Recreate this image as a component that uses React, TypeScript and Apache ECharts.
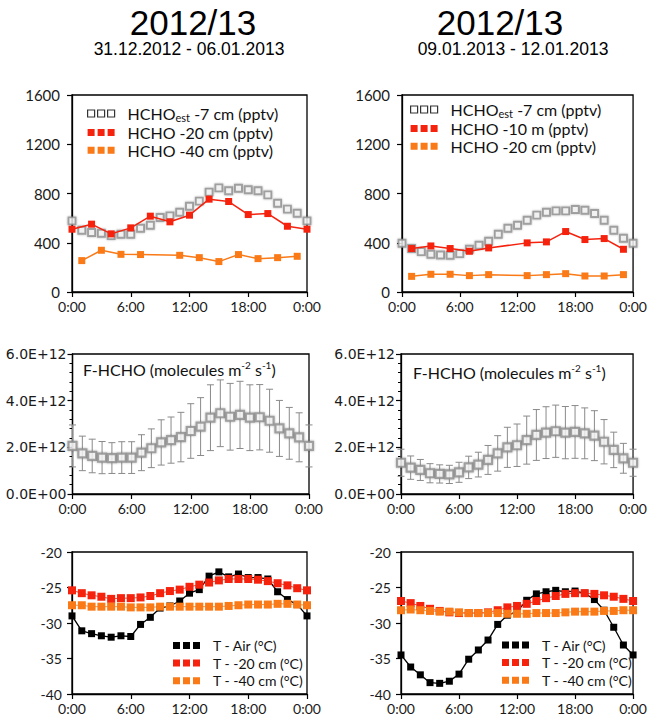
import React, { useEffect, useRef } from 'react';
import * as echarts from 'echarts';

// Hour-of-day positions (0:00 ... next 0:00)
const HOURS = [0, 1, 2, 3, 4, 5, 6, 7, 8, 9, 10, 11, 12, 13, 14, 15, 16, 17, 18, 19, 20, 21, 22, 23, 24];
const X_TICKS = ['0:00', '6:00', '12:00', '18:00', '0:00'];

// ---- Period 1: 31.12.2012 - 06.01.2013 ----
const hchoEstA = [578, 502, 483, 477, 458, 469, 469, 518, 542, 605, 618, 648, 697, 738, 811, 846, 822, 843, 830, 822, 789, 721, 673, 640, 578];
const hcho20A_hours = [0, 2, 4, 6, 8, 10, 12, 14, 16, 18, 20, 22, 24];
const hcho20A = [510, 551, 472, 521, 616, 570, 624, 754, 735, 629, 637, 534, 510];
const hcho40A_hours = [1, 3, 5, 7, 11, 13, 15, 17, 19, 21, 23];
const hcho40A = [255, 339, 306, 304, 298, 279, 247, 304, 271, 279, 290];

// F-HCHO mean and spread, in 1e12 molecules m-2 s-1
const fluxA = [2.06, 1.74, 1.63, 1.56, 1.54, 1.56, 1.56, 1.77, 1.96, 2.21, 2.31, 2.44, 2.70, 2.89, 3.27, 3.46, 3.31, 3.39, 3.27, 3.29, 3.14, 2.81, 2.60, 2.43, 2.06];
const fluxErrA = [0.90, 0.74, 0.72, 0.69, 0.66, 0.68, 0.68, 0.77, 0.83, 0.97, 0.99, 1.06, 1.17, 1.24, 1.41, 1.43, 1.43, 1.44, 1.41, 1.40, 1.35, 1.20, 1.11, 1.05, 0.90];

const tAirA = [-29.0, -31.1, -31.5, -31.8, -32.0, -31.8, -31.9, -30.2, -29.2, -27.9, -27.6, -26.9, -25.8, -25.3, -23.4, -22.8, -23.5, -23.1, -23.6, -23.6, -23.8, -25.6, -26.7, -27.4, -29.0];
const t20A = [-25.4, -25.8, -26.1, -26.3, -26.6, -26.5, -26.5, -26.4, -26.2, -25.8, -25.5, -25.3, -24.9, -24.6, -24.3, -24.0, -23.8, -23.8, -23.8, -23.9, -24.1, -24.4, -24.7, -25.1, -25.4];
const t40A = [-27.5, -27.5, -27.7, -27.7, -27.7, -27.7, -27.8, -27.8, -27.8, -27.7, -27.7, -27.7, -27.7, -27.7, -27.7, -27.7, -27.6, -27.5, -27.4, -27.4, -27.4, -27.3, -27.3, -27.4, -27.5];

// ---- Period 2: 09.01.2013 - 12.01.2013 ----
const hchoEstB = [396, 353, 328, 306, 301, 298, 312, 347, 380, 412, 469, 518, 542, 583, 624, 648, 659, 659, 670, 664, 637, 583, 502, 437, 396];
const hchoB_hours = [1, 3, 5, 7, 9, 13, 15, 17, 19, 21, 23];
const hcho10mB = [353, 374, 353, 331, 358, 399, 407, 491, 426, 434, 347];
const hcho20B = [127, 144, 144, 133, 141, 133, 141, 149, 130, 130, 141];

const fluxB = [1.34, 1.13, 1.03, 0.89, 0.86, 0.84, 0.93, 1.14, 1.26, 1.46, 1.74, 2.00, 2.09, 2.31, 2.53, 2.63, 2.69, 2.63, 2.66, 2.60, 2.50, 2.24, 1.89, 1.53, 1.34];
const fluxErrB = [0.58, 0.50, 0.45, 0.41, 0.39, 0.39, 0.43, 0.48, 0.53, 0.62, 0.76, 0.86, 0.91, 1.03, 1.09, 1.11, 1.12, 1.12, 1.13, 1.09, 1.07, 0.95, 0.76, 0.64, 0.58];

const tAirB = [-34.5, -36.2, -37.3, -38.4, -38.5, -38.2, -37.2, -35.1, -33.8, -32.4, -30.2, -28.9, -28.4, -26.8, -25.9, -25.6, -25.4, -25.6, -25.5, -25.8, -26.7, -28.2, -30.6, -33.1, -34.5];
const t20B = [-26.9, -27.2, -27.6, -28.0, -28.3, -28.5, -28.6, -28.6, -28.6, -28.5, -28.2, -27.8, -27.6, -27.3, -26.9, -26.5, -26.2, -25.9, -25.8, -25.8, -25.9, -26.1, -26.3, -26.6, -26.9];
const t40B = [-28.2, -28.1, -28.2, -28.3, -28.4, -28.4, -28.5, -28.6, -28.6, -28.6, -28.6, -28.7, -28.7, -28.7, -28.6, -28.6, -28.6, -28.5, -28.4, -28.4, -28.4, -28.3, -28.3, -28.2, -28.2];

const TITLE = '2012/13';
const PERIOD_A = '31.12.2012 - 06.01.2013';
const PERIOD_B = '09.01.2013 - 12.01.2013';

const NAME_EST = 'HCHOest -7 cm (pptv)';
const NAME_20 = 'HCHO -20 cm (pptv)';
const NAME_40 = 'HCHO -40 cm (pptv)';
const NAME_10M = 'HCHO -10 m (pptv)';
const NAME_TAIR = 'T - Air (°C)';
const NAME_T20 = 'T - -20 cm (°C)';
const NAME_T40 = 'T - -40 cm (°C)';

const RED = '#f5220e';
const ORANGE = '#f97a17';
const GREY = '#8f8f8f';
const LABEL_FONT = 'Lato';

const pairs = (xs: number[], ys: number[]) => xs.map((x, i) => [x, ys[i]]);

const grids = [
  { left: 72, top: 95, width: 235, height: 197 },
  { left: 402, top: 95, width: 234, height: 197 },
  { left: 72.5, top: 354, width: 236.5, height: 140 },
  { left: 401, top: 354, width: 236, height: 140 },
  { left: 72, top: 552, width: 235, height: 142 },
  { left: 401, top: 552, width: 237, height: 142 },
];

const xAxis = (gridIndex: number) => ({
  type: 'value',
  gridIndex,
  min: 0,
  max: 24,
  interval: 6,
  axisLine: { show: true, onZero: false, lineStyle: { color: '#000', width: 1.3 } },
  axisTick: { show: true, inside: false, length: 5, lineStyle: { color: '#000', width: 1.2 } },
  axisLabel: {
    formatter: (v: number) => X_TICKS[Math.round(v / 6)],
    color: '#1a1a1a',
    fontFamily: LABEL_FONT,
    fontSize: 14,
    margin: 7,
  },
  splitLine: { show: false },
});

const yAxisBase = {
  type: 'value',
  axisLine: { show: true, onZero: false, lineStyle: { color: '#000', width: 1.3 } },
  axisTick: { show: true, inside: false, length: 5, lineStyle: { color: '#000', width: 1.2 } },
  splitLine: { show: false },
};

const labelStyle = { color: '#1a1a1a', fontFamily: LABEL_FONT, fontSize: 14 };
const plainLabel = (v: number) => String(v);
const fluxLabel = (v: number) => (v === 0 ? '0.0E+00' : v.toExponential(1).toUpperCase());

const estStyle = {
  color: '#f6f6f6',
  borderColor: GREY,
  borderWidth: 1.9,
  shadowBlur: 2,
  shadowColor: 'rgba(0,0,0,0.35)',
};

const estSeries = (name: string, idx: number, values: number[]) => ({
  name,
  type: 'scatter',
  xAxisIndex: idx,
  yAxisIndex: idx,
  symbol: 'rect',
  symbolSize: 7,
  itemStyle: estStyle,
  data: pairs(HOURS, values),
  clip: false,
});

const lineSeries = (
  name: string,
  idx: number,
  xs: number[],
  ys: number[],
  color: string,
  lineWidth: number,
  size: number,
) => ({
  name,
  type: 'line',
  xAxisIndex: idx,
  yAxisIndex: idx,
  symbol: 'rect',
  symbolSize: size,
  showAllSymbol: true,
  itemStyle: { color },
  lineStyle: { color, width: lineWidth },
  data: pairs(xs, ys),
  clip: false,
});

const errorBars = (idx: number, mean: number[], err: number[]) => ({
  type: 'custom',
  xAxisIndex: idx,
  yAxisIndex: idx,
  silent: true,
  clip: false,
  data: HOURS.map((h, i) => [h, (mean[i] - err[i]) * 1e12, (mean[i] + err[i]) * 1e12]),
  encode: { x: 0, y: [1, 2] },
  renderItem: (_params: any, api: any) => {
    const x = api.value(0);
    const lo = api.coord([x, api.value(1)]);
    const hi = api.coord([x, api.value(2)]);
    const w = 3.5;
    const style = { stroke: '#8a8a8a', lineWidth: 1 };
    return {
      type: 'group',
      children: [
        { type: 'line', shape: { x1: lo[0], y1: lo[1], x2: hi[0], y2: hi[1] }, style },
        { type: 'line', shape: { x1: lo[0] - w, y1: lo[1], x2: lo[0] + w, y2: lo[1] }, style },
        { type: 'line', shape: { x1: hi[0] - w, y1: hi[1], x2: hi[0] + w, y2: hi[1] }, style },
      ],
    };
  },
});

const fluxSeries = (idx: number, mean: number[]) => ({
  type: 'scatter',
  xAxisIndex: idx,
  yAxisIndex: idx,
  symbol: 'rect',
  symbolSize: 8,
  itemStyle: { ...estStyle, borderWidth: 2.2 },
  data: HOURS.map((h, i) => [h, mean[i] * 1e12]),
  clip: false,
});

const ICON = 'path://M0,0h7v7h-7z M10,0h7v7h-7z M20,0h7v7h-7z';

const legendText = (size: number) => ({
  fontFamily: LABEL_FONT,
  fontSize: size,
  color: '#111',
  lineHeight: 16,
  padding: [0, 0, 0, 8],
  rich: {
    a: { fontFamily: LABEL_FONT, fontSize: size, color: '#111', lineHeight: 16 },
    sub: { fontFamily: LABEL_FONT, fontSize: 11, color: '#111', lineHeight: 8, padding: [8, 0, 0, 0] },
  },
});

const legendItem = (name: string, color: string, hollow = false) => ({
  name,
  icon: ICON,
  itemStyle: hollow
    ? { color: '#fff', borderColor: '#000', borderWidth: 1.2, shadowBlur: 0 }
    : { color, borderWidth: 0, shadowBlur: 0 },
});

const legend = (left: number, top: number, size: number, items: any[]) => ({
  orient: 'vertical',
  left,
  top,
  padding: 0,
  itemGap: 1.6,
  itemWidth: 27,
  itemHeight: 7,
  selectedMode: false,
  textStyle: legendText(size),
  formatter: (name: string) =>
    name === NAME_EST ? '{a|HCHO}{sub|est}{a| -7 cm (pptv)}' : name,
  data: items,
});

const centerText = (text: string, x: number, y: number, size: number) => ({
  type: 'text',
  x,
  y,
  style: {
    text,
    fontFamily: 'Liberation Sans',
    fontSize: size,
    fill: '#000',
    align: 'center',
    verticalAlign: 'middle',
    textAlign: 'center',
    textVerticalAlign: 'middle',
  },
});

const fluxTitle = (x: number, y: number) => ({
  type: 'text',
  x,
  y,
  style: {
    text: '{a|F-HCHO (molecules m}{s|-2}{a| s}{s|-1}{a|)}',
    fill: '#111',
    verticalAlign: 'middle',
    textVerticalAlign: 'middle',
    rich: {
      a: { fontFamily: LABEL_FONT, fontSize: 16, lineHeight: 18, fill: '#111', color: '#111' },
      s: { fontFamily: LABEL_FONT, fontSize: 10, lineHeight: 10, padding: [0, 0, 8, 0], fill: '#111', color: '#111' },
    },
  },
});

export default function App() {
  const ref = useRef<HTMLDivElement>(null);

  useEffect(() => {
    if (!ref.current) return;
    const chart = echarts.init(ref.current, undefined, { renderer: 'svg' });

    const fluxAxis = (gridIndex: number) => ({
      ...yAxisBase,
      gridIndex,
      min: 0,
      max: 6e12,
      interval: 2e12,
      minorTick: { show: true, splitNumber: 5, length: 3, lineStyle: { color: '#000', width: 1 } },
      axisLabel: { color: '#1a1a1a', fontFamily: 'DejaVu Sans', fontSize: 14, margin: 6, formatter: fluxLabel },
    });

    chart.setOption({
      animation: false,
      backgroundColor: '#fff',
      grid: grids.map((g) => ({ ...g, show: true, borderColor: '#000', borderWidth: 1.3, containLabel: false })),
      xAxis: [0, 1, 2, 3, 4, 5].map(xAxis),
      yAxis: [
        { ...yAxisBase, gridIndex: 0, min: 0, max: 1600, interval: 400, axisLabel: { ...labelStyle, fontSize: 15, margin: 12, formatter: plainLabel } },
        { ...yAxisBase, gridIndex: 1, min: 0, max: 1600, interval: 400, axisLabel: { ...labelStyle, fontSize: 15, margin: 12, formatter: plainLabel } },
        fluxAxis(2),
        fluxAxis(3),
        { ...yAxisBase, gridIndex: 4, min: -40, max: -20, interval: 5, axisLabel: { ...labelStyle, margin: 10, formatter: plainLabel } },
        { ...yAxisBase, gridIndex: 5, min: -40, max: -20, interval: 5, axisLabel: { ...labelStyle, margin: 10, formatter: plainLabel } },
      ],
      legend: [
        legend(87, 104, 16, [legendItem(NAME_EST, '#000', true), legendItem(NAME_20, RED), legendItem(NAME_40, ORANGE)]),
        legend(410, 100, 16, [legendItem(NAME_EST, '#000', true), legendItem(NAME_10M, RED), legendItem(NAME_20, ORANGE)]),
        legend(173, 637.5, 14, [legendItem(NAME_TAIR, '#000'), legendItem(NAME_T20, RED), legendItem(NAME_T40, ORANGE)]),
        legend(502, 637, 14, [legendItem(NAME_TAIR, '#000'), legendItem(NAME_T20, RED), legendItem(NAME_T40, ORANGE)]),
      ],
      graphic: [
        centerText(TITLE, 193, 22, 35),
        centerText(PERIOD_A, 189, 48.5, 17.5),
        centerText(TITLE, 500, 22, 35),
        centerText(PERIOD_B, 513, 48.5, 17.5),
        fluxTitle(83, 369),
        fluxTitle(413, 372),
      ],
      series: [
        // HCHO mixing ratios, period 1
        estSeries(NAME_EST, 0, hchoEstA),
        lineSeries(NAME_20, 0, hcho20A_hours, hcho20A, RED, 1.5, 7),
        lineSeries(NAME_40, 0, hcho40A_hours, hcho40A, ORANGE, 1.5, 7),
        // HCHO mixing ratios, period 2
        estSeries(NAME_EST, 1, hchoEstB),
        lineSeries(NAME_10M, 1, hchoB_hours, hcho10mB, RED, 1.5, 7),
        lineSeries(NAME_20, 1, hchoB_hours, hcho20B, ORANGE, 1.5, 7),
        // HCHO flux with spread
        errorBars(2, fluxA, fluxErrA),
        fluxSeries(2, fluxA),
        errorBars(3, fluxB, fluxErrB),
        fluxSeries(3, fluxB),
        // Temperatures
        lineSeries(NAME_TAIR, 4, HOURS, tAirA, '#000', 1.3, 7),
        lineSeries(NAME_T20, 4, HOURS, t20A, RED, 0.8, 8),
        lineSeries(NAME_T40, 4, HOURS, t40A, ORANGE, 0.8, 8),
        lineSeries(NAME_TAIR, 5, HOURS, tAirB, '#000', 1.3, 7),
        lineSeries(NAME_T20, 5, HOURS, t20B, RED, 0.8, 8),
        lineSeries(NAME_T40, 5, HOURS, t40B, ORANGE, 0.8, 8),
      ],
    });

    return () => chart.dispose();
  }, []);

  return (
    <div
      ref={ref}
      style={{ position: 'absolute', left: 0, top: 0, width: 650, height: 724, background: '#fff' }}
    />
  );
}
